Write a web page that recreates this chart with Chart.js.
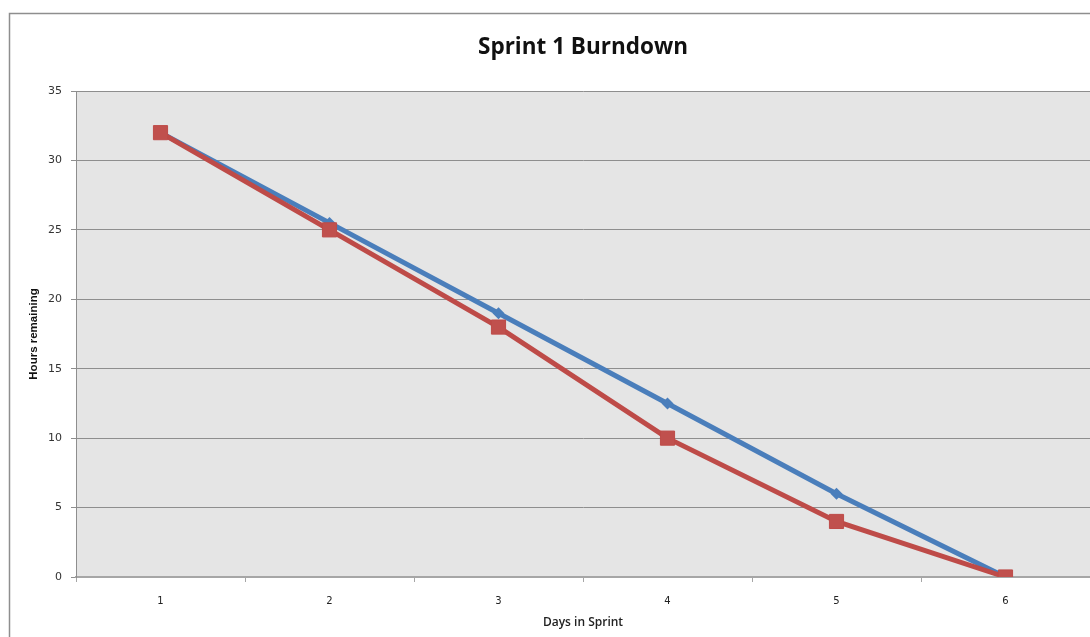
<!DOCTYPE html>
<html>
<head>
<meta charset="utf-8">
<script src="https://cdn.jsdelivr.net/npm/chart.js@4.4.1/dist/chart.umd.min.js"></script>
<style>
  html, body { margin: 0; padding: 0; background: #fff; }
  #wrap { position: absolute; left: 0; top: 0; width: 1090px; height: 637px; }
</style>
</head>
<body>
<div id="wrap"><canvas id="c" width="1090" height="637"></canvas></div>
<script>
// Sprint days and hours remaining
const days = ['1', '2', '3', '4', '5', '6'];
const idealHours = [32, 25.5, 19, 12.5, 6, 0];
const actualHours = [32, 25, 18, 10, 4, 0];
const yTicks = [0, 5, 10, 15, 20, 25, 30, 35];

const frameAndPlotBg = {
  id: 'frameAndPlotBg',
  beforeDraw(chart) {
    const { ctx, chartArea: a } = chart;
    ctx.save();
    ctx.fillStyle = '#ffffff';
    ctx.fillRect(0, 0, chart.width, chart.height);
    ctx.strokeStyle = '#8e8e8e';
    ctx.lineWidth = 1.5;
    ctx.strokeRect(9.5, 13.5, chart.width + 20, chart.height + 20);
    ctx.fillStyle = '#e5e5e5';
    ctx.fillRect(a.left, a.top, a.right - a.left, a.bottom - a.top);
    ctx.restore();
  }
};

new Chart(document.getElementById('c'), {
  type: 'line',
  data: {
    labels: days,
    datasets: [
      {
        label: 'Ideal',
        data: idealHours,
        borderColor: '#4a7ebb',
        backgroundColor: '#4a7ebb',
        borderWidth: 5,
        pointStyle: 'rectRot',
        pointRadius: 6,
        pointBorderWidth: 0,
        tension: 0,
        order: 1
      },
      {
        label: 'Actual',
        data: actualHours,
        borderColor: '#be4b48',
        backgroundColor: '#c0504d',
        borderWidth: 5,
        pointStyle: 'rect',
        pointRadius: 10,
        pointBorderWidth: 1,
        tension: 0,
        order: 0
      }
    ]
  },
  options: {
    responsive: false,
    animation: false,
    devicePixelRatio: 1,
    layout: { autoPadding: false, padding: { left: 0, right: 0, top: 0, bottom: 0 } },
    plugins: {
      legend: { display: false },
      tooltip: { enabled: false },
      title: {
        display: true,
        fullSize: false,
        text: 'Sprint 1 Burndown',
        color: '#111',
        font: { family: 'Open Sans', size: 22.5, weight: 'bold' },
        padding: { top: 34, bottom: 30 }
      }
    },
    scales: {
      x: {
        type: 'category',
        offset: true,
        afterFit(scale) {
          scale.height = 60;
          scale.paddingLeft = 0;
          scale.paddingRight = 0;
        },
        border: { display: true, color: '#a6a6a6', width: 2 },
        grid: {
          offset: true,
          drawOnChartArea: false,
          drawTicks: true,
          tickLength: 5,
          color: '#a6a6a6'
        },
        ticks: {
          color: '#222',
          padding: 13,
          font: { family: 'DejaVu Sans', size: 10 }
        },
        title: {
          display: true,
          text: 'Days in Sprint',
          color: '#222',
          font: { family: 'Open Sans', size: 12, weight: '600' },
          padding: { top: 0, bottom: 7 }
        }
      },
      y: {
        min: 0,
        max: 35,
        afterFit(scale) { scale.width = 76; },
        afterBuildTicks(scale) { scale.ticks = yTicks.map(v => ({ value: v })); },
        border: { display: true, color: '#8e8e8e', width: 1 },
        grid: {
          color: '#8e8e8e',
          lineWidth: 1,
          drawTicks: true,
          tickLength: 5
        },
        ticks: {
          color: '#333',
          padding: 9,
          font: { family: 'DejaVu Sans', size: 11 }
        },
        title: {
          display: true,
          text: 'Hours remaining',
          color: '#111',
          font: { family: 'Liberation Sans', size: 11.5, weight: 'bold' },
          padding: { top: 27, bottom: 0 }
        }
      }
    }
  },
  plugins: [frameAndPlotBg]
});
</script>
</body>
</html>
